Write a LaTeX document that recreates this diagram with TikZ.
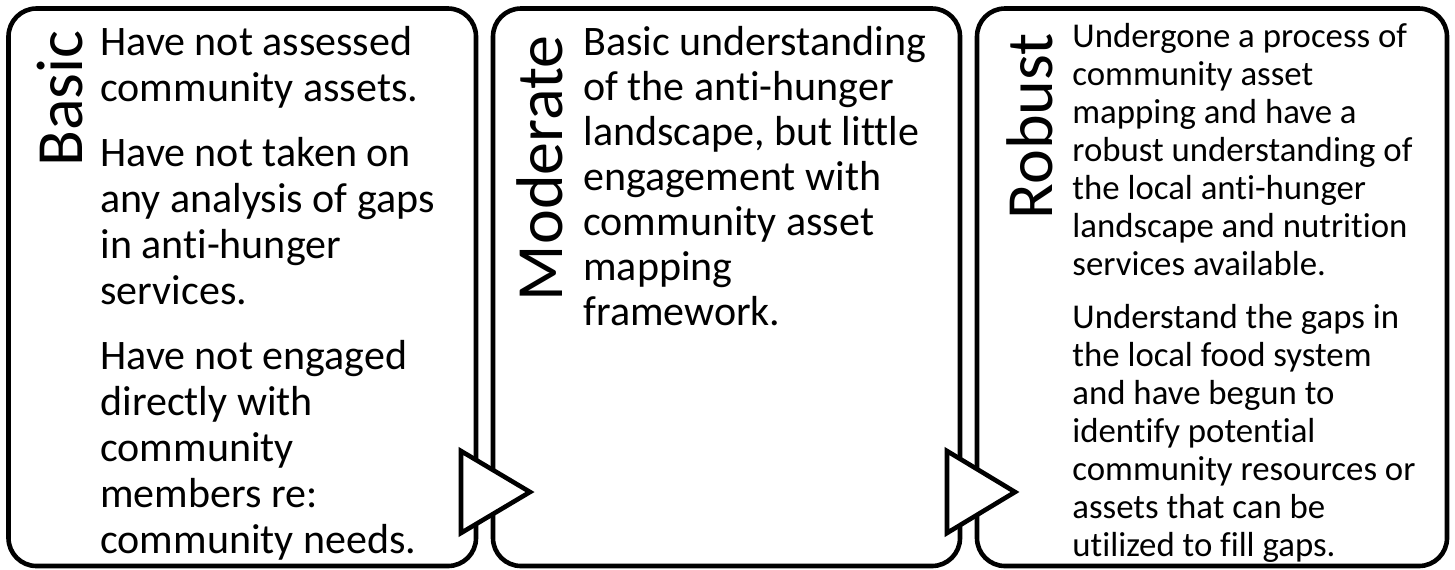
\documentclass[tikz,border=0pt]{standalone}
\usepackage{fontspec}
\setmainfont{Carlito}[Ligatures={NoCommon}]
\begin{document}
\begin{tikzpicture}[x=0.5pt,y=-0.5pt,
  stagebox/.style={draw=black,line width=2.3pt,fill=white,rounded corners=14pt},
  pointer/.style={draw=black,line width=2.3pt,fill=white,line join=miter},
  title/.style={rotate=90,anchor=base east,inner sep=0pt,font=\fontsize{33}{33}\selectfont},
  bigtext/.style={anchor=base west,inner sep=0pt,font=\fontsize{21}{21}\selectfont},
  smalltext/.style={anchor=base west,inner sep=0pt,font=\fontsize{17.4}{17.4}\selectfont}]
\useasboundingbox (0,0) rectangle (1455,569);
\fill[white] (0,0) rectangle (1455,569);
% stage boxes
\draw[stagebox] (8.5,8.5) rectangle (476,566);
\draw[stagebox] (493,8.5) rectangle (960,566);
\draw[stagebox] (977,8.5) rectangle (1447,566);
% pointers
\draw[pointer] (461,451) -- (461,533) -- (530,492) -- cycle;
\draw[pointer] (947,451) -- (947,533) -- (1015,492) -- cycle;
% titles
\node[title] (tbasic) at (82,30) {Basic};
\node[title] (tmod) at (562,35) {Moderate};
\node[title] (trob) at (1052,33) {Robust};
% box 1
\node[bigtext] (a1) at (100,55) {Have not assessed};
\node[bigtext] (a2) at (100,101) {community assets.};
\node[bigtext] (a3) at (100,166) {Have not taken on};
\node[bigtext] (a4) at (100,212) {any analysis of gaps};
\node[bigtext] (a5) at (100,258) {in anti-hunger};
\node[bigtext] (a6) at (100,304) {services.};
\node[bigtext] (a7) at (100,369) {Have not engaged};
\node[bigtext] (a8) at (100,415) {directly with};
\node[bigtext] (a9) at (100,461) {community};
\node[bigtext] (a10) at (100,507) {members re:};
\node[bigtext] (a11) at (100,553) {community needs.};
% box 2
\node[bigtext] (m1) at (583,55) {Basic understanding};
\node[bigtext] (m2) at (583,100) {of the anti-hunger};
\node[bigtext] (m3) at (583,145) {landscape, but little};
\node[bigtext] (m4) at (583,190) {engagement with};
\node[bigtext] (m5) at (583,235) {community asset};
\node[bigtext] (m6) at (583,280) {mapping};
\node[bigtext] (m7) at (583,325) {framework.};
% box 3
\node[smalltext] (r1) at (1072,47) {Undergone a process of};
\node[smalltext] (r2) at (1072,85) {community asset};
\node[smalltext] (r3) at (1072,123) {mapping and have a};
\node[smalltext] (r4) at (1072,161) {robust understanding of};
\node[smalltext] (r5) at (1072,199) {the local anti-hunger};
\node[smalltext] (r6) at (1072,237) {landscape and nutrition};
\node[smalltext] (r7) at (1072,275) {services available.};
\node[smalltext] (r8) at (1072,328) {Understand the gaps in};
\node[smalltext] (r9) at (1072,366) {the local food system};
\node[smalltext] (r10) at (1072,404) {and have begun to};
\node[smalltext] (r11) at (1072,442) {identify potential};
\node[smalltext] (r12) at (1072,480) {community resources or};
\node[smalltext] (r13) at (1072,518) {assets that can be};
\node[smalltext] (r14) at (1072,556) {utilized to fill gaps.};
\end{tikzpicture}
\end{document}
